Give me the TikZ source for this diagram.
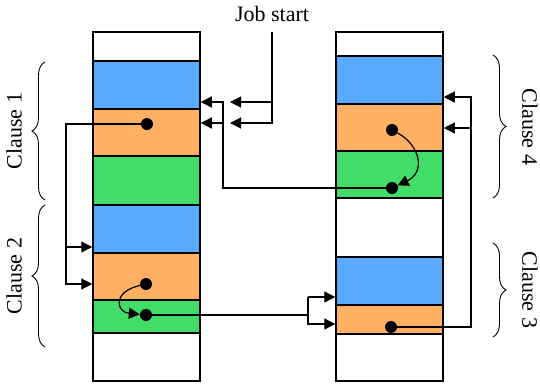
\documentclass[tikz,border=0pt]{standalone}
\usepackage{fontspec}
\setmainfont{Liberation Serif}
\usetikzlibrary{arrows.meta,decorations.pathreplacing,calc}
\definecolor{CellBlue}{RGB}{90,170,255}
\definecolor{CellOrange}{RGB}{255,176,98}
\definecolor{CellGreen}{RGB}{66,220,104}
\tikzset{
    cell/.style = {draw, rectangle, line width=1.5pt,
        minimum width=107pt, inner sep=0pt},
    dot/.style = {circle, fill=black, inner sep=0pt, minimum size=12pt},
    arr/.style = {draw, line width=1.2pt, -{Triangle[length=11pt,width=11pt]}},
    wire/.style = {draw, line width=1.2pt},
    brc/.style = {draw, line width=0.9pt, decorate,
        decoration={brace, amplitude=13pt}}
}

\begin{document}
\begin{tikzpicture}[x=1pt, y=-1pt, font=\fontsize{22}{26}\selectfont]
    \useasboundingbox (0,0) rectangle (540,386);

    % left column of cells
    \foreach \name/\top/\bot/\col in {L0/32/61/white, L1/61/109/CellBlue,
        L2/109/156/CellOrange, L3/156/205/CellGreen, L4/205/253/CellBlue,
        L5/253/300/CellOrange, L6/300/333/CellGreen, L7/333/381/white}{
        \pgfmathsetmacro\hgt{\bot-\top}
        \node [cell, fill=\col, minimum height=\hgt pt] (\name) at (146.5,{(\top+\bot)/2}) {};
    }
    % right column of cells
    \foreach \name/\top/\bot/\col in {R0/32/56/white, R1/56/104/CellBlue,
        R2/104/151/CellOrange, R3/151/198/CellGreen, R4/198/257/white,
        R5/257/305/CellBlue, R6/305/334/CellOrange, R7/334/381/white}{
        \pgfmathsetmacro\hgt{\bot-\top}
        \node [cell, fill=\col, minimum height=\hgt pt] (\name) at (389.5,{(\top+\bot)/2}) {};
    }

    \node [dot] (dL1) at (147,124) {};
    \node [dot] (dL2) at (146,284) {};
    \node [dot] (dL3) at (146,315) {};
    \node [dot] (dR1) at (392,130) {};
    \node [dot] (dR2) at (392,188) {};
    \node [dot] (dR3) at (391,327) {};

    % job start
    \node (job) at (272,14) {Job start};
    \coordinate (jtop) at (272,32);
    \coordinate (j1) at (230,102);
    \coordinate (j2) at (230,123);
    \draw [arr] (jtop) |- (j2);
    \draw [arr] (jtop |- j1) -- (j1);

    % clause 4 back to clause 1
    \coordinate (b1) at (223,102);
    \draw [arr] (dR2) -| (b1) -- (b1 -| L1.east);
    \draw [arr] (b1 |- j2) -- (j2 -| L2.east);

    % clause 1 to clause 2
    \coordinate (c1) at (66,247);
    \draw [arr] (dL1) -| (c1 |- dL2) -- (dL2 -| L5.west);
    \draw [arr] (c1) -- (c1 -| L4.west);
    \draw [arr] (dL2) .. controls (112,292) and (116,312) .. (dL3);

    % clause 2 to clause 3
    \coordinate (e1) at (308,297);
    \coordinate (e2) at (308,324);
    \draw [wire] (dL3) -| (e1);
    \draw [arr] (e1) -- (e1 -| R5.west);
    \draw [arr] (e1) |- (e2 -| R6.west);

    % clause 3 to clause 4
    \coordinate (f1) at (471,97);
    \coordinate (f2) at (471,128);
    \draw [arr] (dR3) -| (f1) -- (f1 -| R1.east);
    \draw [arr] (f2) -- (f2 -| R2.east);
    \draw [arr] (dR1) .. controls (420,145) and (426,172) .. (dR2);

    % braces
    \draw [brc] (45,200) -- (45,62);
    \draw [brc] (45,347) -- (45,205);
    \draw [brc] (493,55) -- (493,198);
    \draw [brc] (493,243) -- (493,337);
    \node [rotate=90] (cl1) at (14,131) {Clause 1};
    \node [rotate=90] (cl2) at (14,276) {Clause 2};
    \node [rotate=-90] (cl4) at (530,127) {Clause 4};
    \node [rotate=-90] (cl3) at (530,290) {Clause 3};
\end{tikzpicture}
\end{document}
